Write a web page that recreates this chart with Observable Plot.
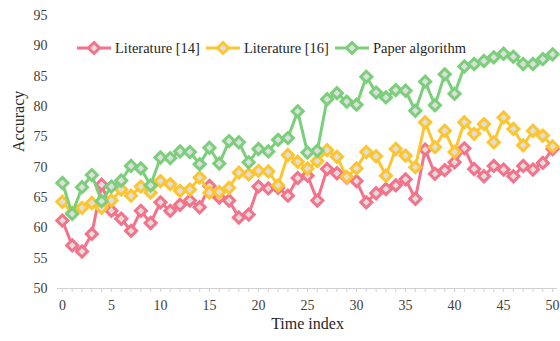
<!DOCTYPE html>
<html><head><meta charset="utf-8">
<script src="https://cdn.jsdelivr.net/npm/d3@7"></script>
<script src="https://cdn.jsdelivr.net/npm/@observablehq/plot@0.6"></script>
<style>
body{margin:0;background:#fff;}
#wrap{position:relative;width:560px;height:341px;font-family:"Liberation Serif","Times New Roman",serif;}
#wrap svg text{font-family:"Liberation Serif","Times New Roman",serif;}
#legend{position:absolute;left:77px;top:40px;display:flex;align-items:center;font-size:14.5px;color:#262626;line-height:16px;font-family:"Liberation Serif","Times New Roman",serif;}
.item{display:flex;align-items:center;margin-right:6px}
.item svg{margin-right:4px}
</style></head><body><div id="wrap"><div id="legend"></div></div>
<script>
const timeIndex = d3.range(0, 51);
const lit14 = [61.2,57.1,56.1,59.0,67.1,62.8,61.5,59.5,62.8,60.8,64.2,62.8,63.8,64.5,63.4,66.9,65.0,64.5,61.7,62.2,66.8,66.5,66.6,65.3,68.2,68.6,64.5,69.7,69.0,68.3,67.7,64.2,65.7,66.4,67.0,68.0,64.8,72.9,68.9,69.5,70.8,73.1,69.7,68.5,70.2,69.6,68.5,70.2,69.6,70.7,73.0];
const lit16 = [64.3,62.5,63.3,64.1,63.3,64.5,66.3,65.3,66.8,65.8,67.7,67.2,66.1,66.3,68.3,65.8,65.9,66.6,69.1,68.8,69.4,69.3,67.0,72.0,70.9,69.8,71.0,72.8,71.7,68.4,69.8,72.5,71.8,68.6,73.0,71.9,70.0,77.4,73.3,76.0,72.5,77.4,75.5,77.1,74.1,78.2,76.3,73.6,76.0,75.2,73.4];
const paper = [67.4,62.3,66.7,68.7,64.4,66.8,67.8,70.2,69.8,67.0,71.6,71.5,72.6,72.5,70.5,73.2,70.6,74.3,74.1,70.8,73.0,72.6,74.5,74.8,79.2,72.4,72.7,81.2,82.2,80.8,80.3,84.9,82.3,81.5,82.7,82.6,79.3,84.1,80.2,85.3,82.1,86.6,87.0,87.5,88.1,88.7,88.2,87.0,87.0,87.8,88.6];
const seriesNames = ["Literature [14]", "Literature [16]", "Paper algorithm"];
const colors = ["#F4728A", "#FDC530", "#7BCF7B"];
const xTicks = [0,5,10,15,20,25,30,35,40,45,50];
const yTicks = [50,55,60,65,70,75,80,85,90,95];
const markerFill = "#dedede";

const data = [];
[lit14, lit16, paper].forEach((arr, k) => arr.forEach((v, i) => data.push({x: timeIndex[i], y: v, s: seriesNames[k]})));

const font = '"Liberation Serif","Times New Roman",serif';
const chart = Plot.plot({
  width: 560, height: 341,
  marginLeft: 57, marginRight: 3, marginTop: 15, marginBottom: 53,
  style: {fontFamily: font, fontSize: "14px", color: "#404040", background: "#fff", overflow: "visible"},
  x: {domain: [-0.5, 50.5]},
  y: {domain: [50, 95]},
  color: {domain: seriesNames, range: colors},
  marks: [
    Plot.axisY({ticks: yTicks, tickSize: 0, tickPadding: 10, label: null, fontSize: 14, fontFamily: font}),
    Plot.axisX({ticks: timeIndex, tickSize: 4, stroke: "#d0d0d0", text: null, label: null}),
    Plot.axisX({ticks: xTicks, tickSize: 0, tickPadding: 12, label: null, fontSize: 14, fontFamily: font}),
    Plot.ruleY([50], {stroke: "#d0d0d0", strokeWidth: 1}),
    ...seriesNames.map(name => [
      Plot.line(data.filter(d => d.s === name), {x: "x", y: "y", stroke: "s", strokeWidth: 3}),
      Plot.dot(data.filter(d => d.s === name), {x: "x", y: "y", stroke: "s", fill: markerFill, symbol: "diamond2", r: 5, strokeWidth: 3})
    ]).flat(),
    Plot.text(["Accuracy"], {frameAnchor: "left", dx: -39, rotate: -90, fontSize: 16, fill: "#262626", fontFamily: font}),
    Plot.text(["Time index"], {frameAnchor: "bottom", dy: 40, fontSize: 16, fill: "#262626", fontFamily: font})
  ]
});
document.getElementById("wrap").prepend(chart);

const legend = document.getElementById("legend");
seriesNames.forEach((name, k) => {
  const item = document.createElement("div");
  item.className = "item";
  item.innerHTML = `<svg width="34" height="16"><line x1="0" x2="34" y1="8" y2="8" stroke="${colors[k]}" stroke-width="3"/><path d="M17,2.5L22.5,8L17,13.5L11.5,8Z" fill="${markerFill}" stroke="${colors[k]}" stroke-width="3"/></svg><span>${name}</span>`;
  legend.appendChild(item);
});
</script></body></html>
